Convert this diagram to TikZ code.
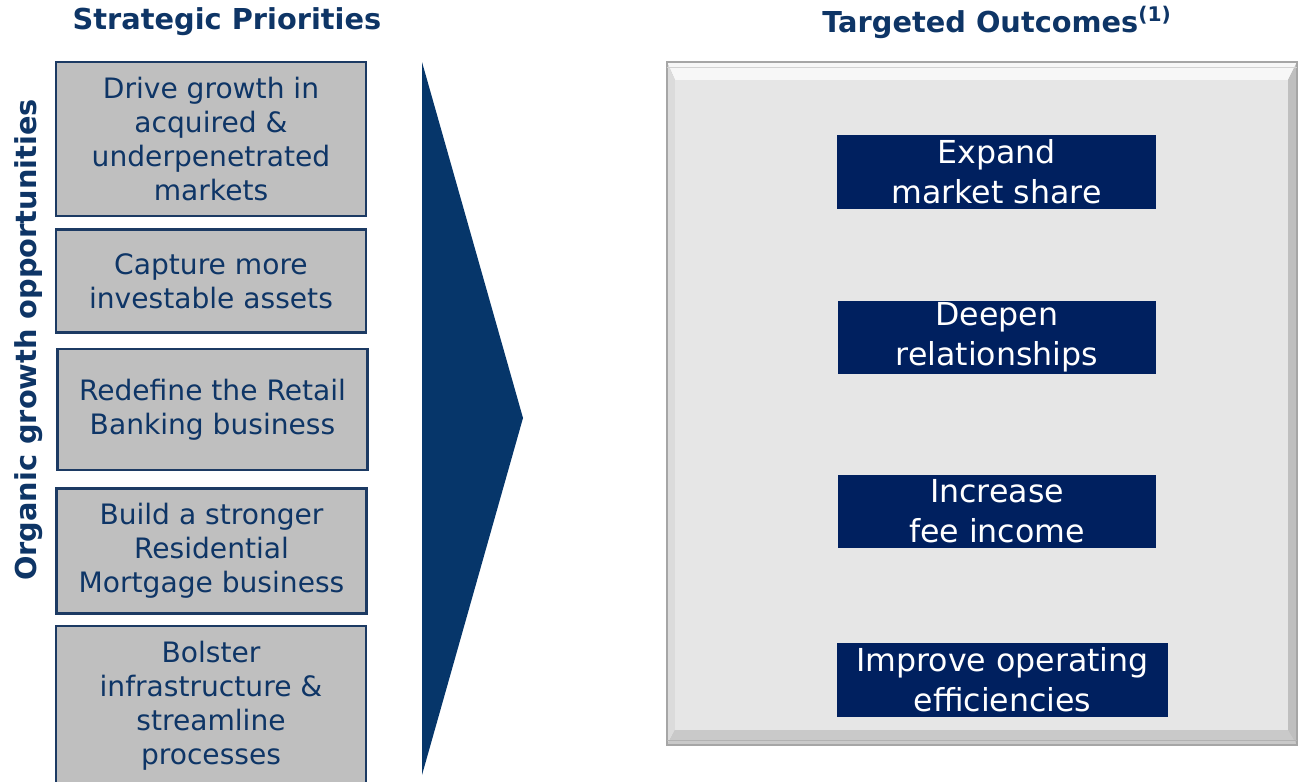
\documentclass[tikz,border=0pt]{standalone}
\usepackage{fontspec}
\setmainfont{DejaVu Sans}
\usetikzlibrary{positioning}

\definecolor{navytext}{HTML}{0E3566}
\definecolor{boxline}{HTML}{1C3A63}
\definecolor{boxgray}{HTML}{BFBFBF}
\definecolor{arrowblue}{HTML}{06366A}
\definecolor{outnavy}{HTML}{00205F}
\definecolor{panelgray}{HTML}{E6E6E6}

\tikzset{
  head/.style={font=\fontsize{16.4}{19}\selectfont\bfseries,text=navytext,inner sep=0pt},
  prio/.style={draw=boxline,line width=1.6pt,fill=boxgray,text=navytext,align=center,
    minimum width=6.2cm,inner sep=0pt,font=\fontsize{16}{19.3}\selectfont},
  outcome/.style={fill=outnavy,text=white,align=center,minimum width=6.38cm,
    minimum height=1.48cm,inner sep=0pt,font=\fontsize{18}{22.7}\selectfont}
}

\begin{document}
\begin{tikzpicture}[x=0.02cm,y=-0.02cm]
    \useasboundingbox (0,0) rectangle (1298,781);
    \clip (0,0) rectangle (1298,781);
    % titles
    \node[head] (sp) at (227,22) {Strategic Priorities};
    \node[head] (to) at (997,22) {Targeted Outcomes\textsuperscript{(1)}};
    \node[head,rotate=90] (org) at (29,340) {Organic growth opportunities};
    % priorities column
    \node[prio,minimum height=3.08cm] (drive) at (211,139) {Drive growth in\\acquired \&\\underpenetrated\\markets};
    \node[prio,minimum height=2.06cm] (capt) at (211,281) {Capture more\\investable assets};
    \node[prio,minimum height=2.42cm] (redef) at (212.5,409.5) {Redefine the Retail\\Banking business};
    \node[prio,minimum height=2.5cm] (build) at (211.5,551) {Build a stronger\\Residential\\Mortgage business};
    \node[prio,minimum height=3.2cm] (bols) at (211,706) {Bolster\\infrastructure \&\\streamline\\processes};
    % big arrow
    \fill[arrowblue] (422,62) -- (523,418) -- (422,775) -- cycle;
    % outcomes panel with bevelled frame
    \fill[gray!55] (667,62) rectangle (1297,745);
    \fill[gray!6] (667,62) -- (1297,62) -- (1288,80) -- (675,80) -- cycle;
    \fill[gray!28] (667,62) -- (675,80) -- (675,730) -- (667,745) -- cycle;
    \fill[gray!50] (1297,62) -- (1288,80) -- (1288,730) -- (1297,745) -- cycle;
    \fill[gray!42] (667,745) -- (675,730) -- (1288,730) -- (1297,745) -- cycle;
    \fill[panelgray] (675,80) rectangle (1288,730);
    \draw[gray!70,line width=0.6pt] (667,62) rectangle (1297,745);
    \draw[gray!35,line width=0.5pt] (667,67) -- (1297,67);
    \draw[gray!60,line width=0.5pt] (667,740) -- (1297,740);
    \node[outcome] (expand) at (996.5,172) {Expand\\market share};
    \node[outcome] (deepen) at (997,337.5) {Deepen\\relationships};
    \node[outcome] (fee) at (997,511.5) {Increase\\fee income};
    \node[outcome,minimum width=6.62cm] (effic) at (1002.5,680) {Improve operating\\efficiencies};
\end{tikzpicture}
\end{document}
